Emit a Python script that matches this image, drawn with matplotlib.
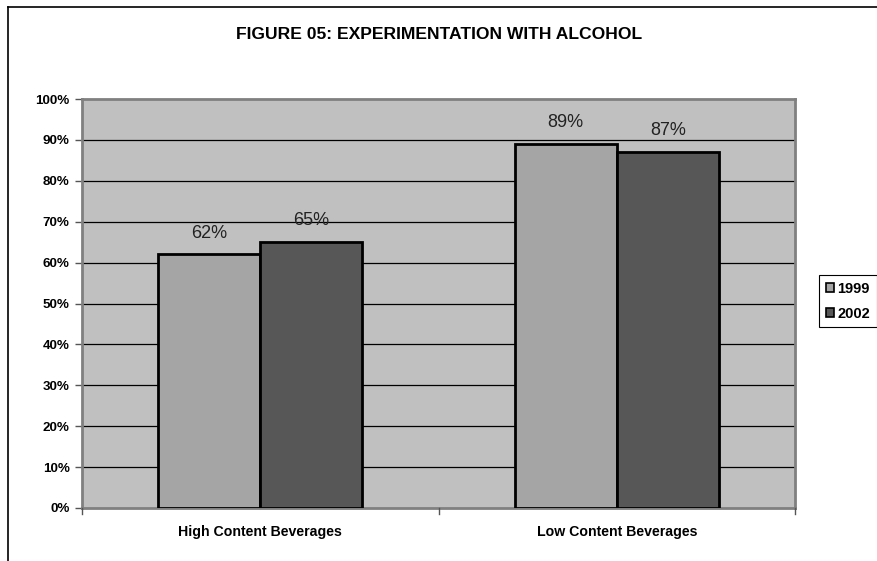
import matplotlib.pyplot as plt
from matplotlib.patches import Patch
from matplotlib.lines import Line2D
import numpy as np

plt.rcParams['font.family'] = ['Liberation Sans', 'DejaVu Sans']

categories = ['High Content Beverages', 'Low Content Beverages']
series = ['1999', '2002']
values_1999 = [0.62, 0.89]
values_2002 = [0.65, 0.87]
colors = ['#A5A5A5', '#575757']

fig = plt.figure(figsize=(8.78, 5.61), dpi=100)
ax = fig.add_axes([0.0934, 0.0945, 0.8121, 0.729])
ax.set_facecolor('#C0C0C0')

x = np.arange(len(categories))
w = 0.286
b1 = ax.bar(x - w / 2, values_1999, w, color=colors[0], edgecolor='black', linewidth=2, zorder=3)
b2 = ax.bar(x + w / 2, values_2002, w, color=colors[1], edgecolor='black', linewidth=2, zorder=3)

for bars, vals in [(b1, values_1999), (b2, values_2002)]:
    for r, v in zip(bars, vals):
        ax.text(r.get_x() + r.get_width() / 2, v + 0.052, f'{v*100:.0f}%',
                ha='center', va='center', fontsize=13, color='#222222', zorder=4)

ax.set_xlim(-0.5, 1.5)
ax.set_ylim(0, 1)
ax.set_yticks(np.arange(0, 1.01, 0.1))
ax.set_yticklabels([f'{int(round(t*100))}%' for t in np.arange(0, 1.01, 0.1)],
                   fontsize=9.6, fontweight='bold')
for t in np.arange(0.1, 0.95, 0.1):
    ax.axhline(t, color='black', linewidth=0.9, zorder=1)

ax.set_xticks(x)
ax.set_xticklabels(categories, fontsize=10.2, fontweight='bold')
ax.tick_params(axis='x', length=0, pad=12)
ax.tick_params(axis='y', length=5, width=1, color='#555555', pad=4)
# category separator ticks
for xb in [-0.5, 0.5, 1.5]:
    ax.plot([xb, xb], [0, -0.015], color='#555555', lw=1, clip_on=False, zorder=5)

for s in ax.spines.values():
    s.set_color('#808080')
    s.set_linewidth(2)

fig.text(0.5, 0.939, 'FIGURE 05: EXPERIMENTATION WITH ALCOHOL', ha='center', va='center',
         fontsize=12.6, fontweight='bold')

# outer chart border
fig.add_artist(Line2D([8/878, 8/878], [0, 1 - 7/561], color='black', lw=1.2, transform=fig.transFigure))
fig.add_artist(Line2D([8/878, 1], [1 - 7/561, 1 - 7/561], color='black', lw=1.2, transform=fig.transFigure))

handles = [Patch(facecolor=c, edgecolor='black', linewidth=1.2) for c in colors]
leg = fig.legend(handles, series, loc='upper left', bbox_to_anchor=(819/878, 1 - 275/561),
                 prop={'size': 10.5, 'weight': 'bold'}, handlelength=0.55, handleheight=0.55,
                 handletextpad=0.25, borderpad=0.45, labelspacing=0.75, fancybox=False,
                 edgecolor='black', framealpha=1, borderaxespad=0)
leg.get_frame().set_linewidth(0.8)

fig.savefig('out.png', dpi=100)
